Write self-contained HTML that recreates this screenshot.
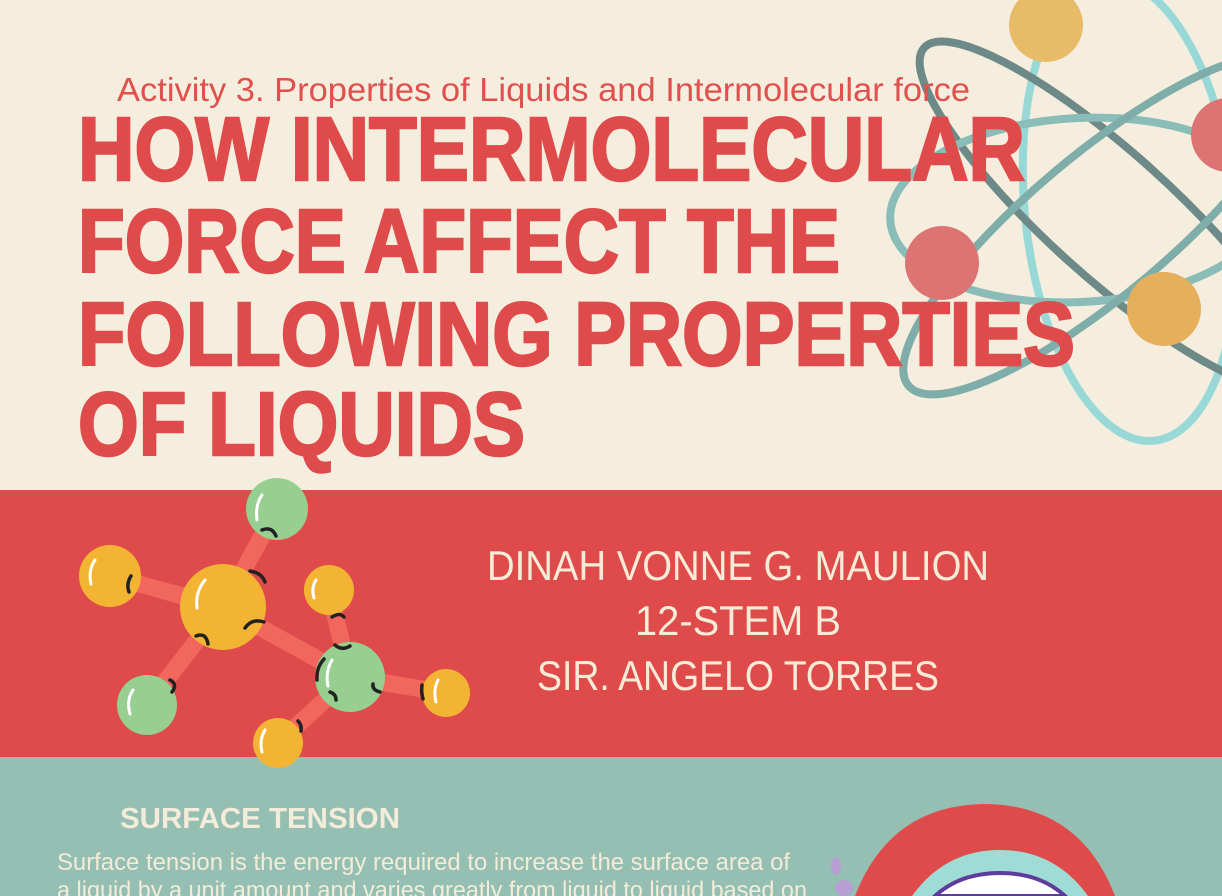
<!DOCTYPE html>
<html><head><meta charset="utf-8"><style>
html,body{margin:0;padding:0;width:1222px;height:896px;overflow:hidden;background:#f5eedf}
svg{display:block}
</style></head><body>
<svg width="1222" height="896" viewBox="0 0 1222 896">
<rect x="0" y="0" width="1222" height="490" fill="#f5eedf"/>
<g fill="none" stroke-linecap="round">
  <ellipse cx="1130" cy="210" rx="105" ry="232" transform="rotate(-6 1130 210)" stroke="#98d9d7" stroke-width="8"/>
  <ellipse cx="1110" cy="215" rx="250" ry="62" transform="rotate(42 1110 215)" stroke="#6d8a88" stroke-width="8"/>
  <ellipse cx="1080" cy="210" rx="190" ry="92" transform="rotate(-3 1080 210)" stroke="#8abcb8" stroke-width="8"/>
  <ellipse cx="1100" cy="225" rx="250" ry="70" transform="rotate(-40 1100 225)" stroke="#7fadaa" stroke-width="8"/>
  <circle cx="1046" cy="25" r="37" fill="#e8bb68"/>
  <circle cx="1228" cy="135" r="37" fill="#dd7474"/>
  <circle cx="942" cy="263" r="37" fill="#dd7474"/>
  <circle cx="1164" cy="309" r="37" fill="#e5af5c"/>
</g>
<text x="117" y="101" font-family="Liberation Sans, sans-serif" font-size="33" fill="#e0504d" textLength="853" lengthAdjust="spacingAndGlyphs">Activity 3. Properties of Liquids and Intermolecular force</text>
<g font-family="Liberation Sans, sans-serif" font-weight="bold" font-size="90" fill="#df4a4a" stroke="#df4a4a" stroke-width="2.5">
  <text x="78" y="180" textLength="947" lengthAdjust="spacingAndGlyphs">HOW INTERMOLECULAR</text>
  <text x="78" y="272" textLength="762" lengthAdjust="spacingAndGlyphs">FORCE AFFECT THE</text>
  <text x="78" y="365" textLength="997" lengthAdjust="spacingAndGlyphs">FOLLOWING PROPERTIES</text>
  <text x="78" y="455" textLength="447" lengthAdjust="spacingAndGlyphs">OF LIQUIDS</text>
</g>
<rect x="0" y="490" width="1222" height="267" fill="#df4b4a"/>
<rect x="0" y="757" width="1222" height="139" fill="#96bfb3"/>
<g>
  <g stroke="#f1675d" stroke-width="17" stroke-linecap="round">
    <line x1="223" y1="607" x2="277" y2="509"/>
    <line x1="223" y1="607" x2="110" y2="576"/>
    <line x1="223" y1="607" x2="147" y2="705"/>
    <line x1="223" y1="607" x2="350" y2="677"/>
    <line x1="350" y1="677" x2="329" y2="590"/>
    <line x1="350" y1="677" x2="446" y2="693"/>
    <line x1="350" y1="677" x2="278" y2="743"/>
  </g>
  <circle cx="277" cy="509" r="31" fill="#97cf90"/>
  <circle cx="110" cy="576" r="31" fill="#f4b433"/>
  <circle cx="223" cy="607" r="43" fill="#f4b433"/>
  <circle cx="329" cy="590" r="25" fill="#f4b433"/>
  <circle cx="147" cy="705" r="30" fill="#97cf90"/>
  <circle cx="350" cy="677" r="35" fill="#97cf90"/>
  <circle cx="446" cy="693" r="24" fill="#f4b433"/>
  <circle cx="278" cy="743" r="25" fill="#f4b433"/>
  <g fill="none" stroke="#222" stroke-width="3.5" stroke-linecap="round">
    <path d="M262 530 Q272 526 276 536"/><path d="M250 571 Q262 573 265 582"/>
    <path d="M131 576 Q126 584 129 592"/><path d="M196 636 Q206 632 208 644"/>
    <path d="M245 628 Q252 618 264 622"/><path d="M317 680 Q316 668 324 659"/>
    <path d="M332 617 Q340 612 344 617"/><path d="M335 645 Q342 651 350 646"/>
    <path d="M170 680 Q178 684 172 692"/><path d="M373 684 Q372 690 380 692"/>
    <path d="M422 685 Q421 692 423 699"/><path d="M298 721 Q302 725 301 731"/>
    <path d="M330 692 Q336 694 336 700"/>
  </g>
  <g fill="none" stroke="#fff" stroke-width="3" stroke-linecap="round">
    <path d="M262 495 Q255 505 257 520"/><path d="M95 560 Q88 570 91 584"/>
    <path d="M205 580 Q195 592 197 608"/><path d="M316 580 Q311 588 314 598"/>
    <path d="M133 690 Q126 700 130 714"/><path d="M332 660 Q325 672 328 686"/>
    <path d="M438 680 Q433 690 436 702"/><path d="M265 730 Q259 740 262 752"/>
  </g>
</g>
<g font-family="Liberation Sans, sans-serif" font-size="42" fill="#f5ecd8" text-anchor="middle">
  <text x="738" y="580" textLength="502" lengthAdjust="spacingAndGlyphs">DINAH VONNE G. MAULION</text>
  <text x="738" y="635" textLength="206" lengthAdjust="spacingAndGlyphs">12-STEM B</text>
  <text x="738" y="690" textLength="402" lengthAdjust="spacingAndGlyphs">SIR. ANGELO TORRES</text>
</g>
<text x="120" y="828" font-family="Liberation Sans, sans-serif" font-weight="bold" font-size="29" fill="#f3ecd8" textLength="280" lengthAdjust="spacingAndGlyphs">SURFACE TENSION</text>
<g font-family="Liberation Sans, sans-serif" font-size="24" fill="#f3ecd8">
  <text x="57" y="870" textLength="733" lengthAdjust="spacingAndGlyphs">Surface tension is the energy required to increase the surface area of</text>
  <text x="57" y="898" textLength="750" lengthAdjust="spacingAndGlyphs">a liquid by a unit amount and varies greatly from liquid to liquid based on</text>
</g>
<g>
  <path d="M855 896 Q890 805 985 804 Q1080 805 1115 896 Z" fill="#df4b4a"/>
  <path d="M912 896 Q945 850 1000 850 Q1055 850 1088 896 Z" fill="#9fdcd6"/>
  <path d="M935 896 Q960 873 1000 873 Q1040 873 1065 896 Z" fill="#fff" stroke="#5d3c9c" stroke-width="4"/>
  <ellipse cx="836" cy="866" rx="5" ry="9" fill="#b79ed3"/>
  <ellipse cx="844" cy="888" rx="9" ry="8" fill="#b79ed3"/>
</g>
</svg>
</body></html>
